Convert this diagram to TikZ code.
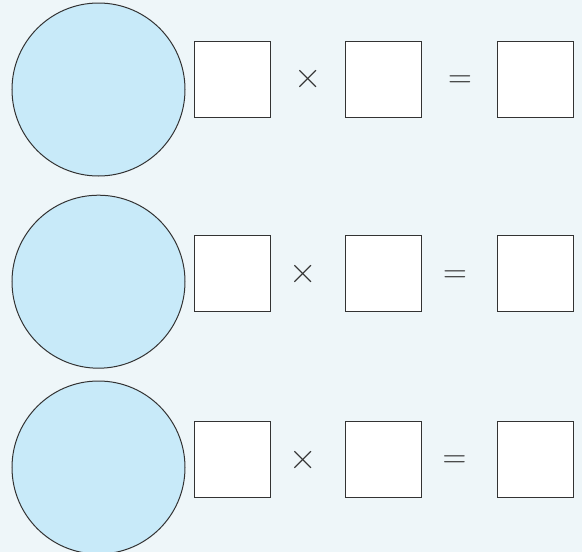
\documentclass[tikz,border=0pt]{standalone}
\definecolor{bgc}{HTML}{EEF6F9}
\definecolor{circc}{HTML}{C8EAF9}
\definecolor{linec}{HTML}{333333}
\begin{document}
\begin{tikzpicture}[x=1pt,y=-1pt,
  disc/.style={circle,draw=linec,line width=1pt,fill=circc,minimum size=173pt,inner sep=0pt},
  answerbox/.style={rectangle,draw=linec,line width=1pt,fill=white,minimum size=76pt,inner sep=0pt},
  timessym/.style={text=linec,inner sep=0pt,font=\fontsize{38}{38}\selectfont},
  eqsym/.style={text=linec,inner sep=0pt,font=\fontsize{33}{33}\selectfont}]
\fill[bgc] (0,0) rectangle (582,552);
\useasboundingbox (0,0) rectangle (582,552);
\begin{scope}
\clip (0,0) rectangle (582,552);
% row 1
\node[disc] (c1) at (98.5,89.5) {};
\node[answerbox] (a1) at (232,79) {};
\node[timessym] (t1) at (308.5,79.5) {×};
\node[answerbox] (b1) at (383.7,79) {};
\node[eqsym] (e1) at (460,81.5) {=};
\node[answerbox] (r1) at (535.3,79) {};
% row 2
\node[disc] (c2) at (98.5,281.7) {};
\node[answerbox] (a2) at (232,273.5) {};
\node[timessym] (t2) at (303,274.5) {×};
\node[answerbox] (b2) at (383.7,273.5) {};
\node[eqsym] (e2) at (455,276.5) {=};
\node[answerbox] (r2) at (535.3,273.5) {};
% row 3
\node[disc] (c3) at (98.5,467.5) {};
\node[answerbox] (a3) at (232,459.7) {};
\node[timessym] (t3) at (303,460) {×};
\node[answerbox] (b3) at (383.7,459.7) {};
\node[eqsym] (e3) at (454.5,462) {=};
\node[answerbox] (r3) at (535.3,459.7) {};
\end{scope}
\end{tikzpicture}
\end{document}
